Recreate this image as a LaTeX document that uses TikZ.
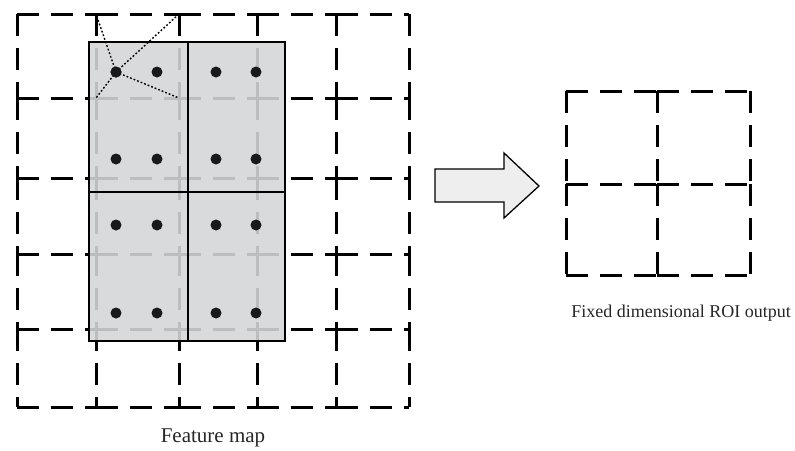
\documentclass[tikz,border=0pt]{standalone}
\usepackage{fontspec}
\setmainfont{Liberation Serif}
\definecolor{roigray}{RGB}{212,213,215}
\definecolor{arrowgray}{RGB}{238,238,238}
\begin{document}
\begin{tikzpicture}[x=1pt,y=-1pt,
  gridseg/.style={line width=3pt, dash pattern=on 22pt off 12pt},
  roifill/.style={fill=roigray, fill opacity=0.89},
  roiline/.style={line width=1.5pt},
  sample/.style={circle, fill=black!90, inner sep=0pt, minimum size=11pt},
  link/.style={line width=1.4pt, dash pattern=on 1.8pt off 2pt},
  blockarrow/.style={line width=1.3pt, fill=arrowgray, line join=miter},
  caption/.style={inner sep=0pt, anchor=center, text=black!85}
]
\useasboundingbox (0,0) rectangle (795,450);

% feature map grid, each cell edge dashed on its own
\foreach \y in {14,98,178,254,329,407}
  \foreach \a/\b in {17/96,96/179,179/257,257/336,336/409}
    \draw[gridseg] (\a,\y) -- (\b,\y);
\foreach \x in {17,96,179,257,336,409}
  \foreach \a/\b in {14/98,98/178,178/254,254/329,329/407}
    \draw[gridseg] (\x,\a) -- (\x,\b);

% region of interest split into 2x2 bins
\fill[roifill] (89,42) rectangle (285,341);
\draw[roiline] (89,42) rectangle (285,341);
\draw[roiline] (188,42) -- (188,341);
\draw[roiline] (89,192) -- (285,192);

% grid points used for bilinear interpolation
\coordinate (g1) at (96,14);
\coordinate (g2) at (179,14);
\coordinate (g3) at (96,98);
\coordinate (g4) at (179,98);

% sampling points
\foreach \r/\y in {1/72,2/159,3/225,4/313}
  \foreach \c/\x in {1/116,2/157,3/216,4/256}
    \node[sample] (s\r\c) at (\x,\y) {};

\foreach \g in {g1,g2,g3,g4}
  \draw[link] (s11.center) -- (\g);
\node[sample] at (s11) {};

\node[caption, font=\fontsize{21}{24}\selectfont] (fmap) at (213,438) {Feature map};

% block arrow
\draw[blockarrow] (435,169) -- (504,169) -- (504,153) -- (539,186)
  -- (504,218) -- (504,202) -- (435,202) -- cycle;

% fixed-size output grid
\foreach \y in {91,184,275}
  \foreach \a/\b in {566/657,657/750}
    \draw[gridseg] (\a,\y) -- (\b,\y);
\foreach \x in {566,657,750}
  \foreach \a/\b in {91/184,184/275}
    \draw[gridseg] (\x,\a) -- (\x,\b);

\node[caption, font=\fontsize{18}{22}\selectfont] (out) at (681,313) {Fixed dimensional ROI output};
\end{tikzpicture}
\end{document}
